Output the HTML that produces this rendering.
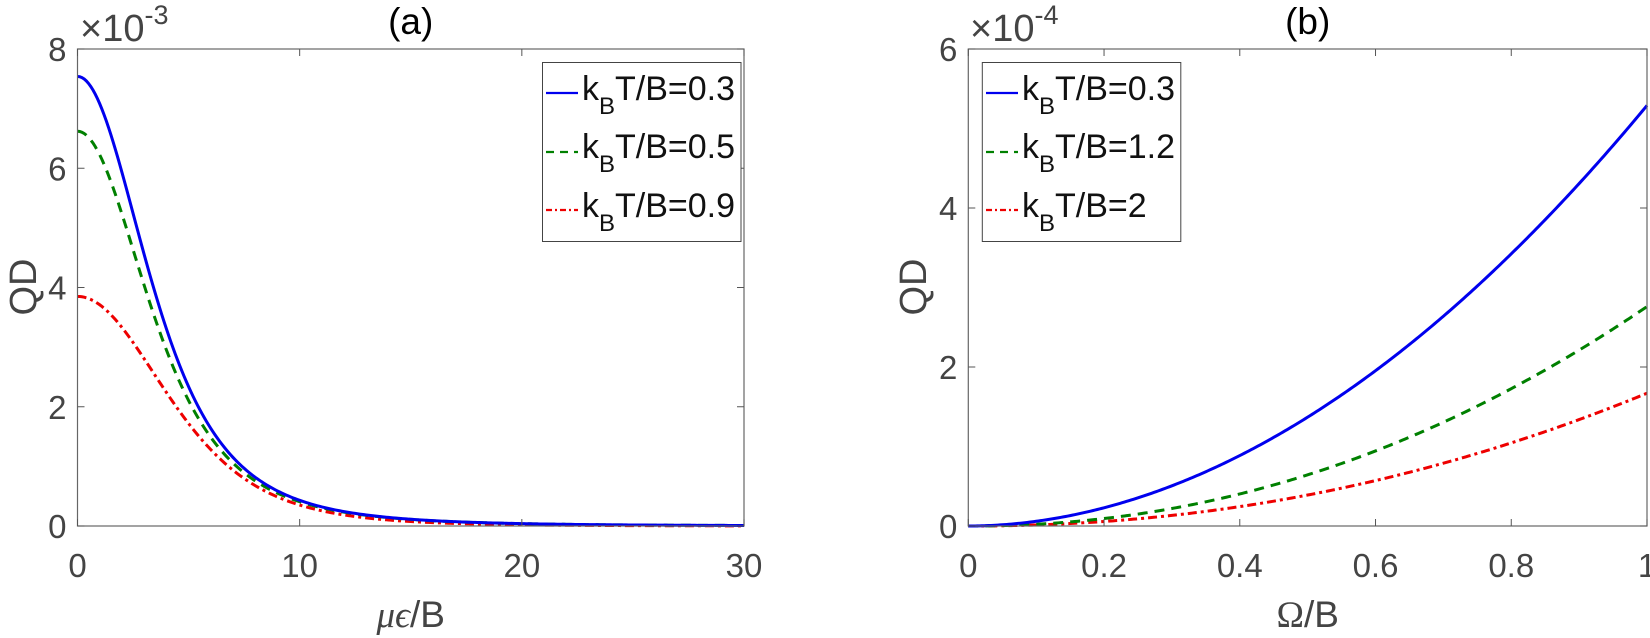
<!DOCTYPE html>
<html><head><meta charset="utf-8"><style>
html,body{margin:0;padding:0;background:#fff;}
svg{display:block;font-family:"Liberation Sans",sans-serif;}
</style></head><body>
<svg id="s" width="1650" height="638" viewBox="0 0 1650 638" xmlns="http://www.w3.org/2000/svg">
<rect width="1650" height="638" fill="#fff"/>
<g id="g"></g>
<text x="410.7" y="34" font-size="37" text-anchor="middle" fill="#000">(a)</text>
<text x="1307.7" y="34" font-size="37" text-anchor="middle" fill="#000">(b)</text>
<text x="80" y="41" font-size="38" fill="#444">×10<tspan font-size="27" dy="-17">-3</tspan></text>
<text x="970" y="41" font-size="38" fill="#444">×10<tspan font-size="27" dy="-17">-4</tspan></text>
<text x="410.7" y="627" font-size="37" text-anchor="middle" fill="#444"><tspan font-family="Liberation Serif" font-style="italic">μϵ</tspan>/B</text>
<text x="1307.7" y="627" font-size="37" text-anchor="middle" fill="#444"><tspan font-family="Liberation Serif">Ω</tspan>/B</text>
<text transform="translate(36,287) rotate(-90)" font-size="38" text-anchor="middle" fill="#444">QD</text>
<text transform="translate(926,287) rotate(-90)" font-size="38" text-anchor="middle" fill="#444">QD</text>
<g font-size="34" fill="#111">
<rect x="542.5" y="62.5" width="198.5" height="179" fill="#fff" stroke="#444" stroke-width="1"/>
<line x1="546" y1="93" x2="578" y2="93" stroke="#0000ee" stroke-width="2.2"/>
<line x1="546" y1="152" x2="578" y2="152" stroke="#008000" stroke-width="2.2" stroke-dasharray="8 6"/>
<line x1="546" y1="210" x2="578" y2="210" stroke="#ee0000" stroke-width="2.2" stroke-dasharray="6 3 2 3"/>
<text x="582" y="100">k<tspan font-size="24" dy="14">B</tspan><tspan dy="-14">T/B=0.3</tspan></text>
<text x="582" y="158">k<tspan font-size="24" dy="14">B</tspan><tspan dy="-14">T/B=0.5</tspan></text>
<text x="582" y="217">k<tspan font-size="24" dy="14">B</tspan><tspan dy="-14">T/B=0.9</tspan></text>

<rect x="982.3" y="62.5" width="198.5" height="179" fill="#fff" stroke="#444" stroke-width="1"/>
<line x1="986" y1="93" x2="1018" y2="93" stroke="#0000ee" stroke-width="2.2"/>
<line x1="986" y1="152" x2="1018" y2="152" stroke="#008000" stroke-width="2.2" stroke-dasharray="8 6"/>
<line x1="986" y1="210" x2="1018" y2="210" stroke="#ee0000" stroke-width="2.2" stroke-dasharray="6 3 2 3"/>
<text x="1022" y="100">k<tspan font-size="24" dy="14">B</tspan><tspan dy="-14">T/B=0.3</tspan></text>
<text x="1022" y="158">k<tspan font-size="24" dy="14">B</tspan><tspan dy="-14">T/B=1.2</tspan></text>
<text x="1022" y="217">k<tspan font-size="24" dy="14">B</tspan><tspan dy="-14">T/B=2</tspan></text>
</g>
</svg>
<script>
(function(){
var NS="http://www.w3.org/2000/svg",g=document.getElementById('g');
function el(t,a){var e=document.createElementNS(NS,t);for(var k in a)e.setAttribute(k,a[k]);g.appendChild(e);return e;}
function txt(x,y,s,anchor){var e=el('text',{x:x,y:y,'font-size':33,'text-anchor':anchor,fill:'#444'});e.textContent=s;}
function axes(x0,x1,y0,y1,xt,yt){
 xt.forEach(function(v,i){var px=x0+(x1-x0)*i/(xt.length-1);
  el('line',{x1:px,y1:y1,x2:px,y2:y1-7,stroke:'#555','stroke-width':1});
  el('line',{x1:px,y1:y0,x2:px,y2:y0+7,stroke:'#555','stroke-width':1});
  txt(px,577,v,'middle');});
 yt.forEach(function(v,i){var py=y1-(y1-y0)*i/(yt.length-1);
  el('line',{x1:x0,y1:py,x2:x0+7,y2:py,stroke:'#555','stroke-width':1});
  el('line',{x1:x1,y1:py,x2:x1-7,y2:py,stroke:'#555','stroke-width':1});
  txt(x0-11,py+12,v,'end');});
}
function curve(f,xmin,xmax,x0,x1,ymax,y0,y1,col,dash){
 var d='',N=300;
 for(var i=0;i<=N;i++){var u=xmin+(xmax-xmin)*i/N,v=f(u);
  var px=x0+(x1-x0)*i/N,py=y1-(y1-y0)*v/ymax;d+=(i?'L':'M')+px.toFixed(2)+' '+py.toFixed(2);}
 var a={d:d,fill:'none',stroke:col,'stroke-width':3};if(dash)a['stroke-dasharray']=dash;el('path',a);
}
function blue(x){return 7.54/Math.pow(1+x*x/31.4,2);}
var L={x0:77.5,x1:744,y0:49,y1:526};
curve(function(x){return 3.85/Math.pow(1+x*x/78,2.9);},0,30,L.x0,L.x1,8,L.y0,L.y1,'#ee0000','9 4 3 4');
curve(function(x){return blue(x)*(1-0.122*Math.exp(-x*x/124));},0,30,L.x0,L.x1,8,L.y0,L.y1,'#008000','10 7');
curve(blue,0,30,L.x0,L.x1,8,L.y0,L.y1,'#0000ee',null);
var R={x0:968.3,x1:1647,y0:49,y1:526};
curve(function(x){return 1.67*Math.pow(x,2.1);},0,1,R.x0,R.x1,6,R.y0,R.y1,'#ee0000','9 4 3 4');
curve(function(x){return 2.76*Math.pow(x,2.1);},0,1,R.x0,R.x1,6,R.y0,R.y1,'#008000','10 7');
curve(function(x){return 5.29*Math.pow(x,1.95);},0,1,R.x0,R.x1,6,R.y0,R.y1,'#0000ee',null);
el('rect',{x:L.x0,y:L.y0,width:L.x1-L.x0,height:L.y1-L.y0,fill:'none',stroke:'#666','stroke-width':1.2});
el('rect',{x:R.x0,y:R.y0,width:R.x1-R.x0,height:R.y1-R.y0,fill:'none',stroke:'#666','stroke-width':1.2});
axes(L.x0,L.x1,L.y0,L.y1,['0','10','20','30'],['0','2','4','6','8']);
axes(R.x0,R.x1,R.y0,R.y1,['0','0.2','0.4','0.6','0.8','1'],['0','2','4','6']);
var s=document.getElementById('s');var gs=s.querySelectorAll('svg > g');s.appendChild(gs[gs.length-1]);
})();
</script>
</body></html>
